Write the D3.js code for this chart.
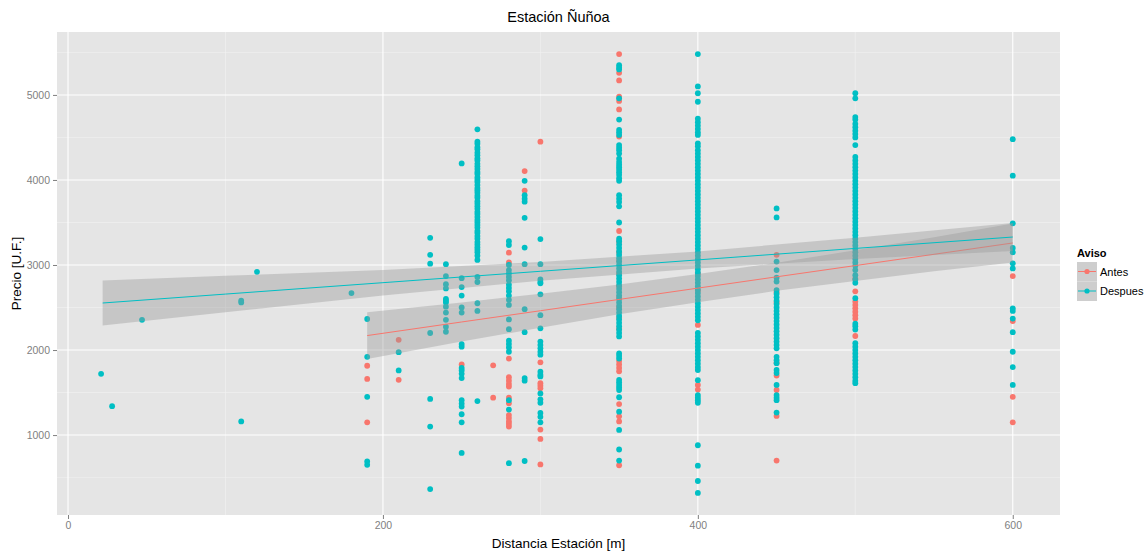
<!DOCTYPE html>
<html>
<head>
<meta charset="utf-8">
<script src="https://cdnjs.cloudflare.com/ajax/libs/d3/7.8.5/d3.min.js"></script>
<style>
  body { margin: 0; background: #ffffff; }
  svg text { font-family: "Liberation Sans", Arial, sans-serif; }
</style>
</head>
<body>
<svg id="chart" width="1145" height="553"></svg>
<script>
// data: distance (m) -> list of prices (U.F.)
var antesCols = [
  {x: 190, v: [1815, 1660, 1150]},
  {x: 210, v: [2120, 1650]},
  {x: 250, v: [1830]},
  {x: 270, v: [1820, 1440]},
  {x: 280, v: [3145, 3030, 1900, 1680, 1640, 1600, 1570, 1440, 1375, 1235, 1200, 1160, 1130, 1100]},
  {x: 290, v: [4105, 3875]},
  {x: 300, v: [4450, 1855, 1610, 1580, 1550, 1065, 955, 655]},
  {x: 350, v: [5480, 5260, 5170, 4980, 4930, 4830, 4510, 3400, 3270, 3150, 3050, 2900, 2750, 2620, 2500,
               2380, 2250, 1870, 1830, 1790, 1750, 1365, 1220, 1160, 645]},
  {x: 400, v: [2900, 2700, 2295, 1590, 1535]},
  {x: 450, v: [3120, 2680, 2560, 1850, 1700, 1530, 1225, 700]},
  {x: 500, v: [2840, 2690, 2570, 2530, 2490, 2450, 2410, 2370, 2165]},
  {x: 600, v: [2870, 2340, 1450, 1150]}
];

var despuesCols = [
  {x: 21, v: [1720]},
  {x: 28, v: [1340]},
  {x: 47, v: [2355]},
  {x: 110, v: [2580, 2560, 1160]},
  {x: 120, v: [2920]},
  {x: 180, v: [2670]},
  {x: 190, v: [2365, 1920, 1450, 690, 650]},
  {x: 210, v: [1975, 1760]},
  {x: 230, v: [3320, 3120, 3015, 2200, 1425, 1100, 365]},
  {x: 240, v: [3010, 2870, 2775, 2725, 2600, 2580, 2560, 2510, 2440, 2355, 2275, 2215]},
  {x: 250, v: [4195, 2845, 2740, 2640, 2500, 2440, 2070, 2040, 1790, 1760, 1720, 1670, 1410, 1370, 1335,
               1245, 1150, 790]},
  {x: 260, v: [4595, 4450, 4425, 4385, 4360, 4320, 4290, 4255, 4230, 4190, 4160, 4130, 4095, 4070, 4030,
               4000, 3975, 3940, 3905, 3880, 3850, 3815, 3790, 3750, 3720, 3690, 3660, 3625, 3600, 3565,
               3530, 3500, 3470, 3440, 3400, 3375, 3340, 3310, 3270, 3240, 3210, 3180, 3150, 3110, 3060,
               2860, 2800, 2550, 2460, 1400]},
  {x: 280, v: [3280, 3235, 3000, 2940, 2900, 2860, 2820, 2770, 2730, 2690, 2640, 2590, 2530, 2360, 2245,
               2110, 2070, 2030, 1980, 1410, 1300, 670]},
  {x: 290, v: [3990, 3820, 3780, 3745, 3555, 3205, 3010, 2480, 2210, 1670, 1640, 695]},
  {x: 300, v: [3305, 3010, 2830, 2800, 2785, 2655, 2410, 2255, 2100, 2060, 2020, 1980, 1945, 1745, 1710,
               1690, 1490, 1420, 1380, 1260, 1215, 1150]},
  {x: 350, v: [5350, 5320, 5300, 4960, 4710, 4590, 4560, 4530, 4410, 4380, 4350, 4310, 4250, 4210, 4180,
               4150, 4120, 4090, 4060, 4020, 3990, 3820, 3780, 3740, 3690, 3500, 3310, 3280, 3240, 3200,
               3160, 3120, 3080, 3040, 3000, 2960, 2920, 2880, 2840, 2800, 2760, 2720, 2680, 2640, 2600,
               2560, 2520, 2480, 2440, 2400, 2360, 2320, 2280, 2240, 2200, 2160, 1960, 1930, 1900, 1650,
               1620, 1590, 1560, 1530, 1445, 1275, 1060, 830, 700]},
  {x: 400, v: [5480, 5100, 5020, 4920, 4720, 4680, 4640, 4600, 4560, 4530, 4430, 4395, 4350, 4310, 4270,
               4230, 4190, 4150, 4110, 4070, 4030, 3990, 3950, 3910, 3870, 3830, 3790, 3750, 3710, 3670,
               3630, 3590, 3550, 3510, 3470, 3430, 3390, 3350, 3310, 3270, 3230, 3190, 3150, 3110, 3070,
               3030, 2990, 2950, 2910, 2870, 2830, 2790, 2750, 2710, 2670, 2630, 2590, 2550, 2510, 2470,
               2430, 2390, 2350, 2200, 2160, 2120, 2080, 2040, 2000, 1960, 1920, 1880, 1840, 1800, 1765,
               1645, 1470, 1440, 1410, 1380, 880, 640, 460, 320]},
  {x: 450, v: [3665, 3560, 3040, 2940, 2850, 2805, 2705, 2660, 2620, 2580, 2540, 2500, 2460, 2420, 2380,
               2340, 2300, 2260, 2220, 2180, 2140, 2100, 2060, 2020, 1920, 1880, 1845, 1765, 1730, 1590,
               1470, 1440, 1410, 1265]},
  {x: 500, v: [5020, 4960, 4740, 4710, 4660, 4620, 4580, 4540, 4500, 4410, 4270, 4230, 4190, 4150, 4110,
               4070, 4030, 3990, 3950, 3910, 3870, 3830, 3790, 3750, 3710, 3670, 3630, 3590, 3550, 3510,
               3470, 3430, 3390, 3350, 3310, 3270, 3230, 3190, 3150, 3110, 3070, 3030, 2990, 2940, 2880,
               2830, 2790, 2610, 2310, 2280, 2240, 2080, 2040, 2000, 1960, 1920, 1880, 1840, 1800, 1760,
               1720, 1680, 1640, 1610]},
  {x: 600, v: [4480, 4050, 3490, 3200, 3150, 3020, 2960, 2490, 2460, 2370, 2210, 1980, 1800, 1590]}
];

// linear fits with confidence band, read at a few distances
var antesFitX  = [190, 250, 300, 350, 400, 450, 500, 550, 600];
var antesFitY  = [2170, 2330, 2462, 2595, 2728, 2861, 2993, 3126, 3259];
var antesFitLo = [1895, 2100, 2262, 2420, 2563, 2696, 2813, 2926, 3029];
var antesFitHi = [2445, 2560, 2662, 2770, 2893, 3026, 3173, 3326, 3489];

var despuesFitX  = [22, 100, 200, 300, 400, 500, 600];
var despuesFitY  = [2553, 2658, 2792, 2926, 3060, 3195, 3329];
var despuesFitLo = [2288, 2443, 2642, 2816, 2960, 3070, 3164];
var despuesFitHi = [2818, 2873, 2942, 3036, 3160, 3320, 3494];

var xTicks = [0, 200, 400, 600];
var xMinor = [100, 300, 500];
var yTicks = [1000, 2000, 3000, 4000, 5000];
var yMinor = [500, 1500, 2500, 3500, 4500, 5500];

var seriesNames  = ['Antes', 'Despues'];
var seriesColors = ['#F8766D', '#00BFC4'];

var svg = d3.select('#chart');

var panel = {left: 57, top: 32, right: 1060, bottom: 515};

var x_scale = d3.scaleLinear().domain([-7, 630]).range([panel.left, panel.right]);
var y_scale = d3.scaleLinear().domain([60, 5740]).range([panel.bottom, panel.top]);

var color = d3.scaleOrdinal().domain(seriesNames).range(seriesColors);

// panel background
svg.append('rect')
  .attr('x', panel.left)
  .attr('y', panel.top)
  .attr('width', panel.right - panel.left)
  .attr('height', panel.bottom - panel.top)
  .attr('fill', '#E5E5E5');

var grid = svg.append('g');

// minor grid first, then major on top
grid.selectAll('.xminor').data(xMinor).enter().append('line')
  .attr('x1', function(d){ return x_scale(d); })
  .attr('x2', function(d){ return x_scale(d); })
  .attr('y1', panel.top).attr('y2', panel.bottom)
  .attr('stroke', '#F2F2F2').attr('stroke-width', 0.6);

grid.selectAll('.yminor').data(yMinor).enter().append('line')
  .attr('y1', function(d){ return y_scale(d); })
  .attr('y2', function(d){ return y_scale(d); })
  .attr('x1', panel.left).attr('x2', panel.right)
  .attr('stroke', '#F2F2F2').attr('stroke-width', 0.6);

grid.selectAll('.xmajor').data(xTicks).enter().append('line')
  .attr('x1', function(d){ return x_scale(d); })
  .attr('x2', function(d){ return x_scale(d); })
  .attr('y1', panel.top).attr('y2', panel.bottom)
  .attr('stroke', '#FFFFFF').attr('stroke-width', 1.1);

grid.selectAll('.ymajor').data(yTicks).enter().append('line')
  .attr('y1', function(d){ return y_scale(d); })
  .attr('y2', function(d){ return y_scale(d); })
  .attr('x1', panel.left).attr('x2', panel.right)
  .attr('stroke', '#FFFFFF').attr('stroke-width', 1.1);

// flatten columns into points
function flatten(cols, name){
  var out = [];
  cols.forEach(function(c){
    c.v.forEach(function(v){ out.push({x: c.x, y: v, s: name}); });
  });
  return out;
}

var points = flatten(antesCols, 'Antes').concat(flatten(despuesCols, 'Despues'));

svg.append('g').selectAll('circle')
  .data(points)
  .enter().append('circle')
  .attr('cx', function(d){ return x_scale(d.x); })
  .attr('cy', function(d){ return y_scale(d.y); })
  .attr('r', 2.9)
  .attr('fill', function(d){ return color(d.s); });

// smooth bands and lines
function fitRows(xs, ys, lo, hi){
  return xs.map(function(x, i){ return {x: x, y: ys[i], lo: lo[i], hi: hi[i]}; });
}

var fits = [
  {name: 'Antes', rows: fitRows(antesFitX, antesFitY, antesFitLo, antesFitHi)},
  {name: 'Despues', rows: fitRows(despuesFitX, despuesFitY, despuesFitLo, despuesFitHi)}
];

var band = d3.area()
  .x(function(d){ return x_scale(d.x); })
  .y0(function(d){ return y_scale(d.lo); })
  .y1(function(d){ return y_scale(d.hi); });

var fitLine = d3.line()
  .x(function(d){ return x_scale(d.x); })
  .y(function(d){ return y_scale(d.y); });

fits.forEach(function(f){
  svg.append('path')
    .attr('d', band(f.rows))
    .attr('fill', '#999999')
    .attr('fill-opacity', 0.4);
  svg.append('path')
    .attr('d', fitLine(f.rows))
    .attr('fill', 'none')
    .attr('stroke', color(f.name))
    .attr('stroke-width', 1);
});

// axes
var xAxis = svg.append('g')
  .attr('transform', 'translate(0,' + panel.bottom + ')')
  .call(d3.axisBottom(x_scale).tickValues(xTicks).tickFormat(d3.format('d')).tickSize(4).tickPadding(3));

var yAxis = svg.append('g')
  .attr('transform', 'translate(' + panel.left + ',0)')
  .call(d3.axisLeft(y_scale).tickValues(yTicks).tickFormat(d3.format('d')).tickSize(4).tickPadding(3));

[xAxis, yAxis].forEach(function(ax){
  ax.select('.domain').remove();
  ax.selectAll('line').attr('stroke', '#7F7F7F');
  ax.selectAll('text')
    .attr('fill', '#7F7F7F')
    .style('font-size', '10.5px');
});

// titles
svg.append('text')
  .attr('x', (panel.left + panel.right) / 2)
  .attr('y', 22)
  .attr('text-anchor', 'middle')
  .style('font-size', '14.5px')
  .attr('fill', '#000')
  .text('Estación Ñuñoa');

svg.append('text')
  .attr('x', (panel.left + panel.right) / 2)
  .attr('y', 548)
  .attr('text-anchor', 'middle')
  .style('font-size', '13.5px')
  .attr('fill', '#000')
  .text('Distancia Estación [m]');

svg.append('text')
  .attr('transform', 'translate(21,' + (panel.top + panel.bottom) / 2 + ') rotate(-90)')
  .attr('text-anchor', 'middle')
  .style('font-size', '13.5px')
  .attr('fill', '#000')
  .text('Precio [U.F.]');

// legend
var legend = svg.append('g').attr('transform', 'translate(1077,0)');

legend.append('text')
  .attr('x', 0).attr('y', 257)
  .style('font-size', '11px')
  .style('font-weight', 'bold')
  .text('Aviso');

seriesNames.forEach(function(name, i){
  var ky = 262 + i * 19.5;
  legend.append('rect')
    .attr('x', 0).attr('y', ky)
    .attr('width', 20).attr('height', 19.5)
    .attr('fill', '#F2F2F2');
  legend.append('rect')
    .attr('x', 0).attr('y', ky)
    .attr('width', 20).attr('height', 19.5)
    .attr('fill', '#999999')
    .attr('fill-opacity', 0.4);
  legend.append('line')
    .attr('x1', 1).attr('x2', 19)
    .attr('y1', ky + 9.5).attr('y2', ky + 9.5)
    .attr('stroke', color(name)).attr('stroke-width', 1);
  legend.append('circle')
    .attr('cx', 10).attr('cy', ky + 9.5)
    .attr('r', 2.6)
    .attr('fill', color(name));
  legend.append('text')
    .attr('x', 23).attr('y', ky + 13.5)
    .style('font-size', '11px')
    .text(name);
});
</script>
</body>
</html>
